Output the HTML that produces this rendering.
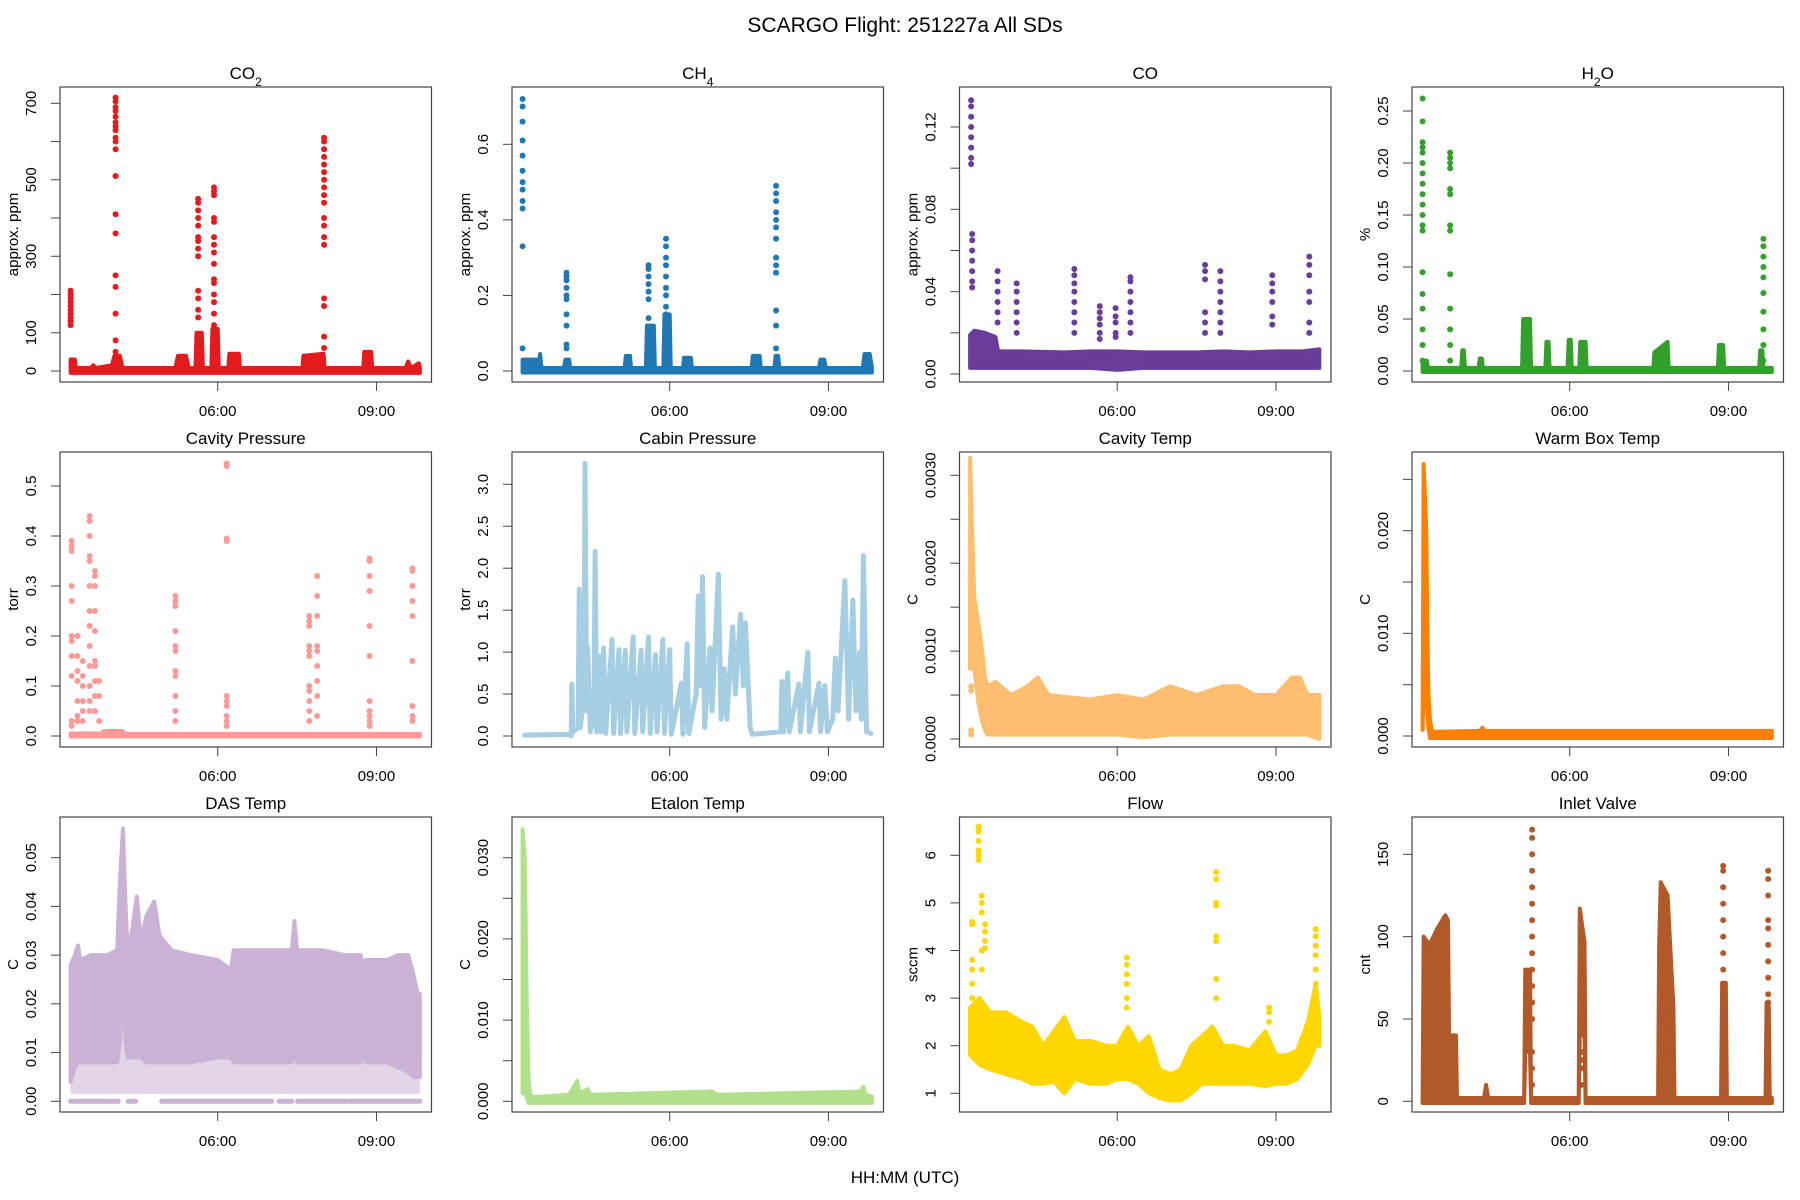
<!DOCTYPE html>
<html><head><meta charset="utf-8"><title>SCARGO Flight 251227a All SDs</title>
<style>
html,body{margin:0;padding:0;background:#fff;}
svg{display:block;font-family:"Liberation Sans",Arial,sans-serif;}
</style></head>
<body>
<svg id="fig" width="1800" height="1200" viewBox="0 0 1800 1200" xmlns="http://www.w3.org/2000/svg">
<rect width="1800" height="1200" fill="#fff"/>
<text x="905" y="32" font-size="21" text-anchor="middle">SCARGO Flight: 251227a  All SDs</text>
<text x="905" y="1183" font-size="17" text-anchor="middle">HH:MM (UTC)</text>
</svg>
<script>
// ---------- shared axis data ----------
const xTickHours = [6, 9];
const xTickLabels = ["06:00", "09:00"];

// ---------- CO2 ----------
const co2BandT  = [3.22,3.3,3.32,3.6,3.65,3.7,4.0,4.05,4.15,4.2,5.2,5.25,5.4,5.45,5.58,5.6,5.7,5.72,5.88,5.9,6.0,6.02,6.2,6.22,6.4,6.42,7.6,7.62,8.0,8.02,8.75,8.77,8.9,8.92,9.55,9.6,9.65,9.8,9.82];
const co2BandHi = [30,30,8,8,15,8,15,40,40,8,8,40,40,8,8,100,100,8,8,110,110,8,8,45,45,8,8,40,45,8,8,50,50,8,8,25,8,20,10];
const co2BandLo = co2BandT.map(()=>-5);
const co2DotT = [3.22,4.07,5.63,5.93,8.01];
const co2DotV = [[120,130,140,150,160,170,180,190,200,210],
  [715,705,690,680,665,650,640,630,610,600,580,510,410,360,250,220,150,80,50],
  [450,440,420,400,380,350,340,320,300,210,190,160,140],
  [480,470,460,400,390,350,330,310,280,240,230,200,180,150,120],
  [610,600,580,560,540,520,500,480,460,440,400,380,350,330,190,170,90,60]];

// ---------- CH4 ----------
const ch4BandT  = [3.22,3.5,3.52,3.55,3.58,4.0,4.03,4.1,4.12,5.15,5.17,5.25,5.27,5.55,5.57,5.7,5.72,5.88,5.9,6.0,6.02,6.25,6.27,6.4,6.42,7.55,7.57,7.7,7.72,7.98,8.0,8.05,8.07,8.82,8.85,8.92,8.95,9.65,9.68,9.78,9.82];
const ch4BandHi = [0.03,0.03,0.008,0.045,0.008,0.008,0.03,0.03,0.008,0.008,0.04,0.04,0.008,0.008,0.12,0.12,0.008,0.008,0.15,0.15,0.008,0.008,0.035,0.035,0.008,0.008,0.04,0.04,0.008,0.008,0.04,0.04,0.008,0.008,0.03,0.03,0.008,0.008,0.045,0.045,0.01];
const ch4BandLo = ch4BandT.map(()=>-0.004);
const ch4DotT = [3.22,4.05,5.6,5.93,8.01];
const ch4DotV = [[0.72,0.7,0.66,0.61,0.57,0.53,0.5,0.48,0.45,0.43,0.33,0.06],
  [0.26,0.25,0.24,0.22,0.2,0.19,0.15,0.12,0.07,0.06],
  [0.28,0.27,0.25,0.23,0.21,0.19,0.14,0.1],
  [0.35,0.33,0.3,0.28,0.25,0.22,0.2,0.17,0.15,0.12,0.08],
  [0.49,0.47,0.45,0.42,0.4,0.38,0.35,0.3,0.28,0.26,0.16,0.12,0.06]];

// ---------- CO ----------
const coBandT  = [3.22,3.3,3.5,3.7,3.75,4.2,5.0,5.5,6.0,6.5,7.0,7.5,8.0,8.5,9.0,9.5,9.82];
const coBandHi = [0.019,0.021,0.02,0.018,0.011,0.011,0.0105,0.011,0.011,0.0105,0.0105,0.0105,0.011,0.0105,0.011,0.011,0.012];
const coBandLo = [0.003,0.003,0.003,0.003,0.003,0.003,0.003,0.003,0.002,0.003,0.003,0.003,0.003,0.003,0.003,0.003,0.003];
const coDotT = [3.24,3.26,3.74,4.1,5.19,5.67,5.97,6.25,7.66,7.95,8.93,9.63];
const coDotV = [[0.133,0.13,0.125,0.12,0.115,0.11,0.105,0.102],
  [0.068,0.065,0.06,0.055,0.05,0.045,0.042],
  [0.05,0.045,0.04,0.035,0.03,0.025],
  [0.044,0.04,0.035,0.03,0.025,0.02],
  [0.051,0.048,0.044,0.04,0.035,0.03,0.025,0.02],
  [0.033,0.03,0.027,0.024,0.02,0.017],
  [0.032,0.028,0.025,0.02,0.018],
  [0.047,0.045,0.04,0.035,0.03,0.025,0.02],
  [0.053,0.05,0.046,0.03,0.025,0.02],
  [0.05,0.045,0.04,0.035,0.03,0.025,0.02],
  [0.048,0.044,0.04,0.035,0.028,0.024],
  [0.057,0.053,0.048,0.04,0.035,0.025,0.02]];

// ---------- H2O ----------
const h2oBandT  = [3.22,3.3,3.32,3.95,3.97,4.0,4.02,4.28,4.3,4.34,4.36,5.1,5.12,5.25,5.27,5.54,5.56,5.6,5.62,5.96,5.98,6.02,6.04,6.18,6.2,6.3,6.32,7.58,7.6,7.85,7.87,8.8,8.82,8.9,8.92,9.58,9.6,9.64,9.66,9.82];
const h2oBandHi = [0.01,0.01,0.003,0.003,0.02,0.02,0.003,0.003,0.012,0.012,0.003,0.003,0.05,0.05,0.003,0.003,0.028,0.028,0.003,0.003,0.03,0.03,0.003,0.003,0.028,0.028,0.003,0.003,0.018,0.028,0.003,0.003,0.025,0.025,0.003,0.003,0.02,0.02,0.003,0.003];
const h2oBandLo = h2oBandT.map(()=>-0.001);
const h2oDotT = [3.22,3.74,9.66];
const h2oDotV = [[0.262,0.24,0.22,0.215,0.21,0.2,0.19,0.18,0.17,0.16,0.15,0.14,0.135,0.095,0.074,0.06,0.04,0.025,0.01],
  [0.21,0.205,0.2,0.195,0.175,0.17,0.14,0.135,0.093,0.06,0.04,0.025,0.01],
  [0.127,0.12,0.11,0.1,0.09,0.075,0.057,0.04,0.025,0.01]];

// ---------- Cavity Pressure ----------
const cpBandT  = [3.22,3.8,3.85,4.2,4.25,9.82];
const cpBandHi = [0.005,0.005,0.01,0.01,0.004,0.004];
const cpBandLo = cpBandT.map(()=>-0.001);
const cpDotT = [3.24,3.35,3.45,3.58,3.68,3.76,5.2,6.17,7.73,7.88,8.87,9.68];
const cpDotV = [[0.39,0.38,0.37,0.3,0.27,0.2,0.19,0.16,0.12,0.03,0.02],
  [0.2,0.16,0.13,0.11,0.07,0.04,0.03],
  [0.15,0.12,0.1,0.07,0.05,0.03],
  [0.44,0.43,0.4,0.36,0.35,0.3,0.25,0.22,0.18,0.14,0.1,0.07,0.05],
  [0.33,0.32,0.3,0.25,0.21,0.15,0.14,0.11,0.08,0.05],
  [0.11,0.08,0.03],
  [0.28,0.27,0.26,0.21,0.18,0.17,0.13,0.12,0.08,0.05,0.03],
  [0.545,0.54,0.395,0.39,0.08,0.07,0.06,0.04,0.03,0.02],
  [0.24,0.23,0.22,0.18,0.17,0.16,0.1,0.09,0.07,0.05,0.03],
  [0.32,0.28,0.24,0.18,0.17,0.14,0.11,0.08,0.04],
  [0.355,0.35,0.32,0.29,0.22,0.16,0.07,0.05,0.04,0.03,0.02],
  [0.335,0.33,0.3,0.27,0.24,0.15,0.06,0.04,0.03]];

// ---------- Cabin Pressure (trace) ----------
const cabT = [3.26,4.1,4.14,4.15,4.17,4.27,4.29,4.31,4.38,4.40,4.43,4.45,4.5,4.57,4.59,4.62,4.67,4.7,4.75,4.79,4.91,4.94,5.04,5.07,5.16,5.19,5.31,5.34,5.46,5.49,5.60,5.63,5.73,5.76,5.87,5.9,6.0,6.03,6.22,6.25,6.33,6.36,6.5,6.54,6.58,6.62,6.66,6.76,6.8,6.92,6.97,7.03,7.08,7.19,7.24,7.34,7.39,7.43,7.52,7.56,8.1,8.12,8.15,8.23,8.26,8.44,8.47,8.61,8.64,8.82,8.85,8.93,8.98,9.08,9.13,9.18,9.31,9.38,9.46,9.52,9.59,9.62,9.66,9.72,9.8];
const cabV = [0.01,0.02,0.0,0.62,0.05,0.1,1.75,0.1,0.5,3.25,0.3,1.05,0.05,0.3,2.2,0.05,0.95,0.05,1.05,0.03,1.15,0.03,1.03,0.03,1.02,0.05,1.18,0.03,1.02,0.05,1.18,0.03,0.97,0.05,1.15,0.03,1.03,0.02,0.63,0.02,1.1,0.03,0.5,1.67,0.6,1.9,0.1,1.05,0.3,1.93,0.2,0.8,0.2,1.3,0.5,1.45,0.6,1.35,0.1,0.02,0.05,0.65,0.05,0.75,0.05,0.62,0.05,1.0,0.05,0.63,0.05,0.6,0.05,0.2,0.93,0.3,1.85,0.2,1.62,0.3,1.0,0.2,2.15,0.05,0.03];

// ---------- Cavity Temp ----------
const ctBandT  = [3.22,3.25,3.3,3.38,3.45,3.5,3.55,3.7,4.0,4.3,4.5,4.7,5.0,5.5,6.0,6.5,7.0,7.5,8.0,8.3,8.6,9.0,9.3,9.45,9.6,9.82];
const ctBandHi = [0.0032,0.0025,0.0016,0.0013,0.001,0.0007,0.0006,0.00065,0.0005,0.0006,0.0007,0.0005,0.00048,0.00045,0.0005,0.00045,0.0006,0.0005,0.0006,0.0006,0.0005,0.0005,0.0007,0.0007,0.0005,0.0005];
const ctBandLo = [0.0008,0.0008,0.0008,0.0004,0.0002,0.0001,0.00005,0.00005,0.00005,0.00005,0.00005,0.00005,0.00005,0.00005,0.00005,0.00002,0.00005,0.00005,0.00005,0.00005,0.00005,0.00005,0.00005,0.00005,0.00005,0.0];
const ctDotT = [3.24];
const ctDotV = [[0.0006,0.00055,0.0001,0.00005]];

// ---------- Warm Box Temp ----------
const wbBandT  = [3.22,3.24,3.29,3.31,3.33,3.36,3.4,4.3,4.35,4.4,9.82];
const wbBandHi = [0.0013,0.0265,0.02,0.01,0.004,0.0015,0.0004,0.0005,0.0008,0.0005,0.0005];
const wbBandLo = [0.0006,0.005,0.004,0.0025,0.0008,-0.0002,-0.0002,-0.0002,-0.0002,-0.0002,-0.0002];
const wbDotT = [];
const wbDotV = [];

// ---------- DAS Temp ----------
const dasBandT  = [3.22,3.3,3.36,3.4,3.6,3.9,4.1,4.15,4.21,4.26,4.3,4.38,4.47,4.55,4.65,4.8,4.9,5.13,5.5,6.0,6.25,6.3,6.8,7.4,7.45,7.5,8.0,8.4,8.7,8.76,8.8,9.2,9.4,9.6,9.7,9.78,9.82];
const dasBandHi = [0.028,0.03,0.032,0.029,0.03,0.03,0.031,0.045,0.056,0.04,0.03,0.035,0.042,0.033,0.038,0.041,0.034,0.031,0.03,0.029,0.027,0.031,0.031,0.031,0.037,0.031,0.031,0.03,0.03,0.027,0.029,0.029,0.03,0.03,0.026,0.022,0.022];
const dasBandLo = [0.004,0.007,0.008,0.008,0.008,0.008,0.008,0.012,0.024,0.012,0.009,0.009,0.009,0.009,0.008,0.008,0.008,0.008,0.008,0.009,0.009,0.008,0.008,0.008,0.01,0.008,0.008,0.008,0.008,0.009,0.008,0.008,0.007,0.006,0.005,0.005,0.005];
const dasScatterLo = dasBandT.map(()=>0.0015);
const dasZeroT0 = [3.22,4.31,4.94,7.16,7.51,8.49];
const dasZeroT1 = [4.12,4.45,7.02,7.40,8.43,9.82];

// ---------- Etalon Temp ----------
const etBandT  = [3.22,3.26,3.3,3.33,3.36,3.4,4.1,4.25,4.3,4.45,4.5,6.8,6.9,9.6,9.66,9.7,9.82];
const etBandHi = [0.0335,0.03,0.012,0.003,0.001,0.0005,0.0008,0.0025,0.001,0.0015,0.0008,0.0012,0.0008,0.0012,0.0018,0.0008,0.0006];
const etBandLo = [0.001,0.001,0.0005,-0.0002,-0.0002,-0.0002,-0.0002,-0.0002,-0.0002,-0.0002,-0.0002,-0.0002,-0.0002,-0.0002,-0.0002,-0.0002,-0.0002];
const etDotT = [];
const etDotV = [];

// ---------- Flow ----------
const flBandT  = [3.22,3.4,3.6,3.9,4.2,4.4,4.6,4.8,5.0,5.2,5.5,5.8,6.0,6.2,6.4,6.6,6.8,7.0,7.2,7.4,7.6,7.8,8.0,8.2,8.5,8.8,9.0,9.2,9.4,9.6,9.75,9.82];
const flBandHi = [2.8,3.0,2.7,2.7,2.5,2.4,2.0,2.3,2.6,2.1,2.1,2.0,2.0,2.4,2.0,2.2,1.5,1.4,1.5,2.0,2.2,2.4,2.0,2.0,1.9,2.3,1.8,1.8,1.9,2.5,3.3,2.6];
const flBandLo = [1.8,1.6,1.5,1.4,1.3,1.2,1.2,1.25,1.0,1.3,1.2,1.2,1.3,1.3,1.2,1.0,0.9,0.85,0.85,1.0,1.2,1.2,1.2,1.2,1.2,1.15,1.2,1.2,1.3,1.6,2.0,2.0];
const flDotT = [3.26,3.38,3.44,3.5,6.18,7.87,8.87,9.75];
const flDotV = [[4.6,4.55,3.8,3.6,3.3,3.0],
  [6.6,6.5,6.3,6.1,6.0,5.9],
  [5.15,5.0,4.8,4.0,3.6],
  [4.55,4.4,4.2,4.05],
  [3.85,3.7,3.5,3.3,3.0,2.8],
  [5.65,5.5,5.0,4.95,4.3,4.2,3.4,3.0],
  [2.8,2.7,2.5],
  [4.45,4.3,4.1,3.9,3.6,3.3,3.0]];

// ---------- Inlet Valve ----------
const ivBandT  = [3.22,3.24,3.35,3.5,3.65,3.7,3.72,3.85,3.87,4.38,4.42,4.46,5.14,5.16,5.25,5.27,6.17,6.19,6.28,6.3,7.67,7.69,7.72,7.85,7.96,7.98,8.86,8.88,8.95,8.97,9.7,9.72,9.76,9.78,9.82];
const ivBandHi = [2,100,95,105,113,110,40,40,2,2,10,2,2,80,80,2,2,117,97,2,2,95,133,125,57,2,2,72,72,2,2,60,60,2,2];
const ivBandLo = [-1,-1,-1,-1,-1,-1,-1,-1,-1,-1,-1,-1,-1,30,30,-1,-1,40,40,-1,-1,-1,-1,-1,-1,-1,-1,-1,-1,-1,-1,-1,-1,-1,-1];
const ivDotT = [5.29,6.22,8.9,9.75];
const ivDotV = [[165,160,150,140,130,120,110,100,90,80,70,60,50,30,20,10],
  [30,25,20,10],
  [143,140,130,120,110,100,90,80,65,55,45,40,25,15,5],
  [140,135,125,110,105,95,85,75,65,60,55,45,40,30,20,10]];

// ---------- panel layout ----------
const COLS = [60, 512, 959.5, 1412];
const ROWS = [87, 452, 817];
const PW = 371.5, PH = 295;
const X0 = 3.02, X1 = 10.04;
const NS = "http://www.w3.org/2000/svg";
const svg = document.getElementById('fig');

const panels = [
 {key:'co2', title:'CO<tspan baseline-shift="sub" font-size="12">2</tspan>', ylab:'approx. ppm', col:0,row:0, color:'#E41A1C',
  v0:0,p0:371,v1:700,p1:103.3, ticks:[0,100,200,300,400,500,600,700], labels:[[0,'0'],[100,'100'],[300,'300'],[500,'500'],[700,'700']],
  bT:co2BandT,bHi:co2BandHi,bLo:co2BandLo,dT:co2DotT,dV:co2DotV},
 {key:'ch4', title:'CH<tspan baseline-shift="sub" font-size="12">4</tspan>', ylab:'approx. ppm', col:1,row:0, color:'#1F78B4',
  v0:0,p0:371,v1:0.6,p1:144.3, ticks:[0,0.2,0.4,0.6], labels:[[0,'0.0'],[0.2,'0.2'],[0.4,'0.4'],[0.6,'0.6']],
  bT:ch4BandT,bHi:ch4BandHi,bLo:ch4BandLo,dT:ch4DotT,dV:ch4DotV},
 {key:'co', title:'CO', ylab:'approx. ppm', col:2,row:0, color:'#6A3D9A',
  v0:0,p0:374,v1:0.12,p1:127, ticks:[0,0.02,0.04,0.06,0.08,0.1,0.12], labels:[[0,'0.00'],[0.04,'0.04'],[0.08,'0.08'],[0.12,'0.12']],
  bT:coBandT,bHi:coBandHi,bLo:coBandLo,dT:coDotT,dV:coDotV},
 {key:'h2o', title:'H<tspan baseline-shift="sub" font-size="12">2</tspan>O', ylab:'%', col:3,row:0, color:'#33A02C',
  v0:0,p0:371,v1:0.25,p1:111, ticks:[0,0.05,0.1,0.15,0.2,0.25], labels:[[0,'0.00'],[0.05,'0.05'],[0.1,'0.10'],[0.15,'0.15'],[0.2,'0.20'],[0.25,'0.25']],
  bT:h2oBandT,bHi:h2oBandHi,bLo:h2oBandLo,dT:h2oDotT,dV:h2oDotV},
 {key:'cavity-pressure', title:'Cavity Pressure', ylab:'torr', col:0,row:1, color:'#FB9A99',
  v0:0,p0:736,v1:0.5,p1:486, ticks:[0,0.1,0.2,0.3,0.4,0.5], labels:[[0,'0.0'],[0.1,'0.1'],[0.2,'0.2'],[0.3,'0.3'],[0.4,'0.4'],[0.5,'0.5']],
  bT:cpBandT,bHi:cpBandHi,bLo:cpBandLo,dT:cpDotT,dV:cpDotV},
 {key:'cabin-pressure', title:'Cabin Pressure', ylab:'torr', col:1,row:1, color:'#A6CEE3',
  v0:0,p0:736,v1:3.0,p1:484.3, ticks:[0,0.5,1,1.5,2,2.5,3], labels:[[0,'0.0'],[0.5,'0.5'],[1,'1.0'],[1.5,'1.5'],[2,'2.0'],[2.5,'2.5'],[3,'3.0']],
  lineT:cabT, lineV:cabV},
 {key:'cavity-temp', title:'Cavity Temp', ylab:'C', col:2,row:1, color:'#FDBF6F',
  v0:0,p0:739,v1:0.003,p1:475.3, ticks:[0,0.0005,0.001,0.0015,0.002,0.0025,0.003], labels:[[0,'0.0000'],[0.001,'0.0010'],[0.002,'0.0020'],[0.003,'0.0030']],
  bT:ctBandT,bHi:ctBandHi,bLo:ctBandLo,dT:ctDotT,dV:ctDotV},
 {key:'warm-box-temp', title:'Warm Box Temp', ylab:'C', col:3,row:1, color:'#FF7F00',
  v0:0,p0:736,v1:0.02,p1:530.7, ticks:[0,0.005,0.01,0.015,0.02,0.025], labels:[[0,'0.000'],[0.01,'0.010'],[0.02,'0.020']],
  bT:wbBandT,bHi:wbBandHi,bLo:wbBandLo,dT:wbDotT,dV:wbDotV},
 {key:'das-temp', title:'DAS Temp', ylab:'C', col:0,row:2, color:'#CAB2D6',
  v0:0,p0:1101.3,v1:0.05,p1:857.7, ticks:[0,0.01,0.02,0.03,0.04,0.05], labels:[[0,'0.00'],[0.01,'0.01'],[0.02,'0.02'],[0.03,'0.03'],[0.04,'0.04'],[0.05,'0.05']],
  bT:dasBandT,bHi:dasBandHi,bLo:dasBandLo,dT:[],dV:[], scatLo:dasScatterLo, zeroT0:dasZeroT0, zeroT1:dasZeroT1},
 {key:'etalon-temp', title:'Etalon Temp', ylab:'C', col:1,row:2, color:'#B2DF8A',
  v0:0,p0:1101.3,v1:0.03,p1:857.7, ticks:[0,0.005,0.01,0.015,0.02,0.025,0.03], labels:[[0,'0.000'],[0.01,'0.010'],[0.02,'0.020'],[0.03,'0.030']],
  bT:etBandT,bHi:etBandHi,bLo:etBandLo,dT:etDotT,dV:etDotV},
 {key:'flow', title:'Flow', ylab:'sccm', col:2,row:2, color:'#FFD700',
  v0:1,p0:1093.3,v1:6,p1:855.3, ticks:[1,2,3,4,5,6], labels:[[1,'1'],[2,'2'],[3,'3'],[4,'4'],[5,'5'],[6,'6']],
  bT:flBandT,bHi:flBandHi,bLo:flBandLo,dT:flDotT,dV:flDotV},
 {key:'inlet-valve', title:'Inlet Valve', ylab:'cnt', col:3,row:2, color:'#B15928',
  v0:0,p0:1101.3,v1:150,p1:854.3, ticks:[0,50,100,150], labels:[[0,'0'],[50,'50'],[100,'100'],[150,'150']],
  bT:ivBandT,bHi:ivBandHi,bLo:ivBandLo,dT:ivDotT,dV:ivDotV}
];

function mk(tag, attrs, parent){
  const e = document.createElementNS(NS, tag);
  for (const k in attrs) e.setAttribute(k, attrs[k]);
  (parent||svg).appendChild(e);
  return e;
}

panels.forEach((p)=>{
  const L = COLS[p.col], T = ROWS[p.row];
  const xs = t => L + (t - X0) / (X1 - X0) * PW;
  const ys = v => p.p0 + (v - p.v0) * (p.p1 - p.p0) / (p.v1 - p.v0);
  const g = mk('g', {});
  
  
  const cid = 'clip-' + p.key;
  const cp = mk('clipPath', {id: cid}, g);
  mk('rect', {x: L, y: T, width: PW, height: PH}, cp);
  const plot = mk('g', {'clip-path': 'url(#' + cid + ')'}, g);
  
  

  if (p.scatLo) {
    let pts = [];
    p.bT.forEach((t,i)=>pts.push(xs(t)+','+ys(p.bLo[i])));
    for (let i=p.bT.length-1;i>=0;i--) pts.push(xs(p.bT[i])+','+ys(p.scatLo[i]));
    const sc = mk('polygon', {points: pts.join(' '), fill: p.color, 'fill-opacity': 0.55, stroke: 'none'}, plot);
    
    
    p.zeroT0.forEach((t0,i)=>{
      const z = mk('line', {x1: xs(t0), x2: xs(p.zeroT1[i]), y1: ys(0), y2: ys(0), stroke: p.color, 'stroke-width': 5, 'stroke-linecap': 'round'}, plot);
      
      
    });
  }
  if (p.bT) {
    let pts = [];
    p.bT.forEach((t,i)=>pts.push(xs(t)+','+ys(p.bHi[i])));
    for (let i=p.bT.length-1;i>=0;i--) pts.push(xs(p.bT[i])+','+ys(p.bLo[i]));
    const band = mk('polygon', {points: pts.join(' '), fill: p.color, stroke: p.color, 'stroke-width': 4, 'stroke-linejoin': 'round'}, plot);
    
    
  }
  if (p.dT) {
    p.dT.forEach((t,i)=>{
      p.dV[i].forEach(v=>{
        const c = mk('circle', {cx: xs(t), cy: ys(v), r: 3.0, fill: p.color}, plot);
        
        
      });
    });
  }
  if (p.lineT) {
    const pts = p.lineT.map((t,i)=>xs(t)+','+ys(p.lineV[i])).join(' ');
    const ln = mk('polyline', {points: pts, fill: 'none', stroke: p.color, 'stroke-width': 5, 'stroke-linejoin': 'round', 'stroke-linecap': 'round'}, plot);
    
    
  }

  const box = mk('rect', {x: L, y: T, width: PW, height: PH, fill: 'none', stroke: '#444', 'stroke-width': 1.2}, g);
  
  

  const ttl = mk('text', {x: L + PW/2, y: T - 8, 'font-size': 17, 'text-anchor': 'middle'}, g);
  ttl.innerHTML = p.title;
  
  

  const xa = mk('g', {}, g);
  
  
  xTickHours.forEach((h,i)=>{
    mk('line', {x1: xs(h), x2: xs(h), y1: T+PH, y2: T+PH+9, stroke: '#444', 'stroke-width': 1}, xa);
    const tl = mk('text', {x: xs(h), y: T+PH+34, 'font-size': 15, 'text-anchor': 'middle'}, xa);
    tl.textContent = xTickLabels[i];
    
    
  });
  const ya = mk('g', {}, g);
  
  
  p.ticks.forEach(v=>{
    mk('line', {x1: L-9, x2: L, y1: ys(v), y2: ys(v), stroke: '#444', 'stroke-width': 1}, ya);
  });
  p.labels.forEach(([v,s])=>{
    const tx = L - 24, ty = ys(v);
    const tl = mk('text', {x: tx, y: ty, 'font-size': 15, 'text-anchor': 'middle', transform: 'rotate(-90 '+tx+' '+ty+')'}, ya);
    tl.textContent = s;
    
    
  });
  const yx = L - 42, yy = T + PH/2;
  const yl = mk('text', {x: yx, y: yy, 'font-size': 15, 'text-anchor': 'middle', transform: 'rotate(-90 '+yx+' '+yy+')'}, g);
  yl.textContent = p.ylab;
  
  
});
</script>
</body></html>
